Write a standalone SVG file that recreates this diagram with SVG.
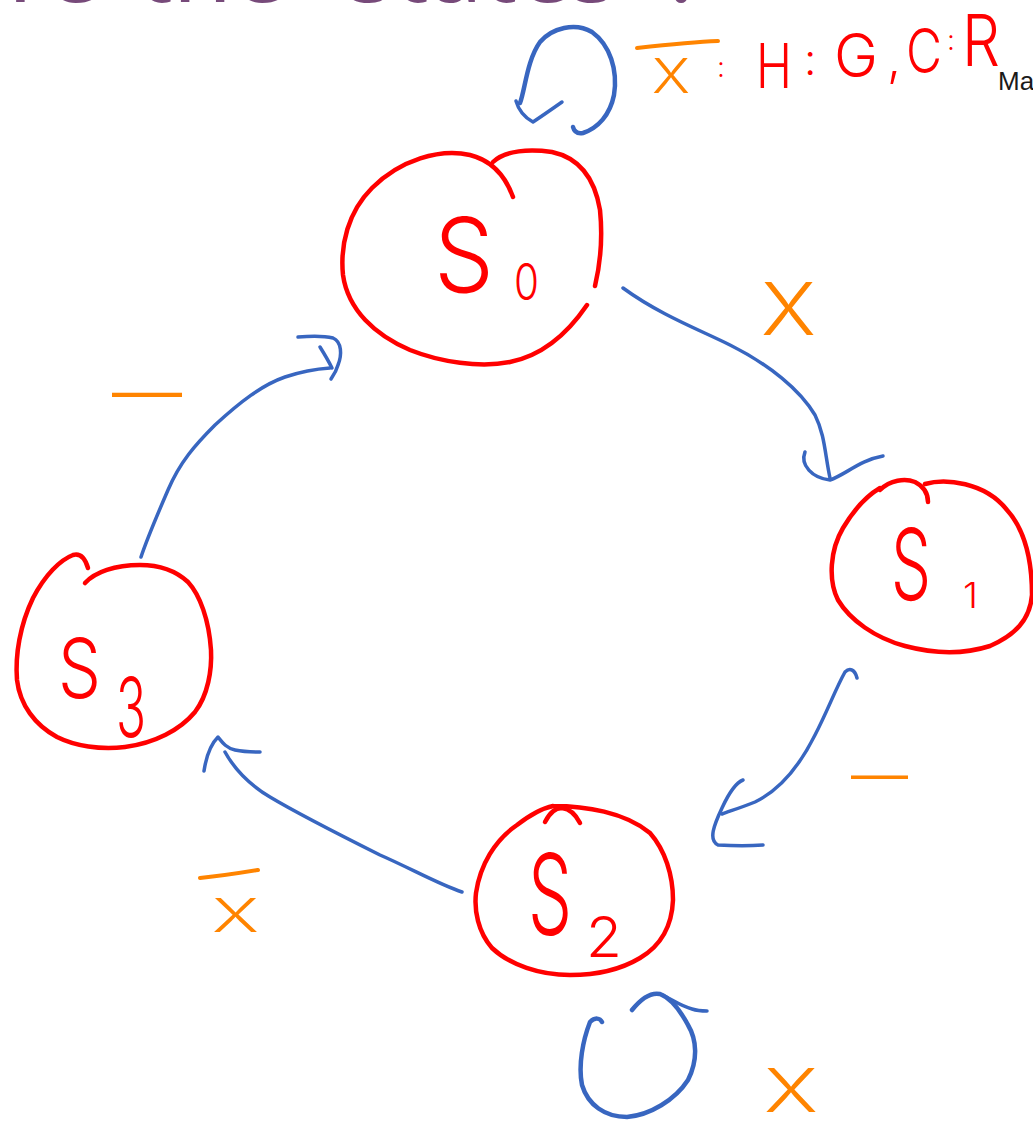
<svg xmlns="http://www.w3.org/2000/svg" width="1033" height="1122" viewBox="0 0 1033 1122">
<style>
.red{fill:none;stroke:#ff0000;stroke-width:4.5;stroke-linecap:round;stroke-linejoin:round}
.blue{fill:none;stroke:#3866c0;stroke-width:3.5;stroke-linecap:round;stroke-linejoin:round}
.loop{stroke-width:4.5}
.obar{fill:none;stroke:#ff8400;stroke-width:4;stroke-linecap:round}
.hw{font-family:Inter,"Liberation Sans",sans-serif;font-weight:300}
.rt{fill:#ff0000}
.ot{fill:#ff8400}
.title{font-family:"Noto Sans","Open Sans","Liberation Sans",sans-serif;font-size:96px;fill:#774a7a}
</style>
<rect width="1033" height="1122" fill="#ffffff"/>
<text class="title" y="2"><tspan x="8">re</tspan><tspan x="138">the</tspan><tspan x="348">states</tspan><tspan x="664">?</tspan></text>
<text x="998" y="90" font-family="Liberation Sans,sans-serif" font-size="26" fill="#1a1a1a">Ma</text>

<g id="S0">
<path class="red" d="M513,197 C505,175 490,160 470,155 C440,148 400,160 372,188 C348,212 340,245 343,275 C348,310 375,335 410,350 C440,362 480,368 510,362 C545,355 570,330 587,305"/>
<path class="red" d="M493,162 C505,150 530,149 552,152 C580,158 595,180 600,210 C603,240 600,265 595,286"/>
<text class="hw rt"><tspan x="434" y="292" font-size="103" textLength="60" lengthAdjust="spacingAndGlyphs">S</tspan><tspan x="514" y="300" font-size="51" textLength="25" lengthAdjust="spacingAndGlyphs">0</tspan></text>
</g>

<g id="S1">
<path class="red" d="M880,490 C890,480 905,478 915,482 C925,487 928,495 928,502"/>
<path class="red" d="M925,484 C945,478 985,482 1007,510 C1025,530 1032,560 1032,595 C1030,620 1015,635 990,646 C965,654 935,654 905,646 C875,638 850,620 838,600 C828,580 830,550 843,528 C855,508 868,495 880,488"/>
<text class="hw rt"><tspan x="891" y="600" font-size="99" textLength="40" lengthAdjust="spacingAndGlyphs">S</tspan><tspan x="963" y="608" font-size="36" textLength="15" lengthAdjust="spacingAndGlyphs">1</tspan></text>
</g>

<g id="S2">
<path class="red" d="M553,806 C585,806 625,812 650,833 C665,850 673,875 673,900 C672,925 662,945 640,958 C620,970 595,975 570,975 C540,975 510,965 492,948 C478,932 474,910 476,893 C480,865 495,840 517,825 C530,815 543,808 553,806"/>
<path class="red" d="M545,822 C550,812 556,808 562,808 C570,809 576,815 580,823"/>
<text class="hw rt"><tspan x="528" y="935" font-size="112" textLength="44" lengthAdjust="spacingAndGlyphs">S</tspan><tspan x="586" y="957" font-size="56" textLength="36" lengthAdjust="spacingAndGlyphs">2</tspan></text>
</g>

<g id="S3">
<path class="red" d="M88,568 C85,558 80,553 73,555 C60,560 45,575 33,598 C20,625 15,655 17,680 C20,705 35,725 57,737 C75,746 100,750 125,747 C155,743 180,730 195,712 C208,695 212,670 211,650 C209,620 200,595 188,582 C175,570 160,565 140,565 C115,565 95,572 85,583"/>
<text class="hw rt"><tspan x="58" y="698" font-size="83" textLength="43" lengthAdjust="spacingAndGlyphs">S</tspan><tspan x="116" y="737" font-size="83" textLength="30" lengthAdjust="spacingAndGlyphs">3</tspan></text>
</g>

<g id="connectors">
<g id="e-S0-S0">
<path class="blue loop" d="M520,103 C525,90 527,60 540,42 C552,28 575,22 592,32 C610,45 618,70 614,95 C610,115 598,128 583,133 C577,134 574,131 573,127"/>
<path class="blue" d="M516,101 Q520,115 533,122 Q545,114 562,102"/>
</g>
<g id="e-S0-S1">
<path class="blue" d="M623,288 C660,315 700,330 730,345 C770,365 800,390 815,415 C825,435 825,455 830,478"/>
<path class="blue" d="M805,452 C800,465 812,478 830,480 C845,475 860,460 883,456"/>
</g>
<g id="e-S1-S2">
<path class="blue" d="M857,678 C855,670 850,667 845,672 C835,690 828,710 815,735 C800,765 780,790 755,802 C740,808 730,811 722,814"/>
<path class="blue" d="M743,780 C735,783 728,795 722,808 C714,825 708,840 718,845 C735,846 750,846 763,845"/>
</g>
<g id="e-S2-S3">
<path class="blue" d="M462,892 C440,885 410,868 380,855 C340,835 300,815 270,797 C250,785 235,770 225,752"/>
<path class="blue" d="M204,771 C206,758 210,745 218,737 C222,742 226,748 235,750 C245,752 252,752 260,752"/>
</g>
<g id="e-S3-S0">
<path class="blue" d="M141,557 C145,545 155,520 168,490 C180,462 195,445 215,425 C240,402 262,385 285,377 C300,372 315,369 330,368"/>
<path class="blue" d="M298,337 C310,336 325,336 333,338 C342,342 342,355 338,365 C336,372 333,376 331,379"/>
<path class="blue" d="M320,347 C325,355 329,362 332,368"/>
</g>
<g id="e-S2-S2">
<path class="blue loop" d="M602,1022 C600,1018 595,1017 590,1022 C583,1040 578,1065 582,1085 C588,1105 605,1117 627,1117 C650,1115 675,1100 688,1080 C698,1060 697,1040 688,1025 C680,1010 670,998 660,994 C650,992 640,1000 632,1010"/>
<path class="blue" d="M660,994 C670,998 680,1006 692,1009 C698,1011 703,1011 707,1011"/>
</g>
</g>

<g id="labels">
<g id="l-S0-S0">
<path class="obar" d="M637,48 C665,45 695,42 718,41"/>
<text class="hw ot" x="652" y="93" font-size="48" textLength="38" lengthAdjust="spacingAndGlyphs">X</text>
<text class="hw rt"><tspan x="717" y="77" font-size="28">:</tspan><tspan x="756" y="88" font-size="62" textLength="36" lengthAdjust="spacingAndGlyphs">H</tspan><tspan x="804" y="75" font-size="44">:</tspan><tspan x="834" y="77" font-size="60" textLength="44" lengthAdjust="spacingAndGlyphs">G</tspan><tspan x="887" y="76" font-size="50">,</tspan><tspan x="906" y="73" font-size="62" textLength="36" lengthAdjust="spacingAndGlyphs">C</tspan><tspan x="947" y="50" font-size="28">:</tspan><tspan x="962" y="66" font-size="72" textLength="38" lengthAdjust="spacingAndGlyphs">R</tspan></text>
</g>
<text id="l-S0-S1" class="hw ot" x="761" y="335" font-size="73" textLength="55" lengthAdjust="spacingAndGlyphs">X</text>
<text id="l-S1-S2" class="hw ot" x="851" y="795" font-size="57" textLength="57" lengthAdjust="spacingAndGlyphs">—</text>
<g id="l-S2-S3">
<path class="obar" d="M200,878 C220,876 240,873 258,870"/>
<text class="hw ot" x="212" y="932" font-size="47" textLength="47" lengthAdjust="spacingAndGlyphs">X</text>
</g>
<text id="l-S3-S0" class="hw ot" x="112" y="416" font-size="69" textLength="70" lengthAdjust="spacingAndGlyphs">—</text>
<text id="l-S2-S2" class="hw ot" x="764" y="1112" font-size="60" textLength="54" lengthAdjust="spacingAndGlyphs">X</text>
</g>
</svg>
